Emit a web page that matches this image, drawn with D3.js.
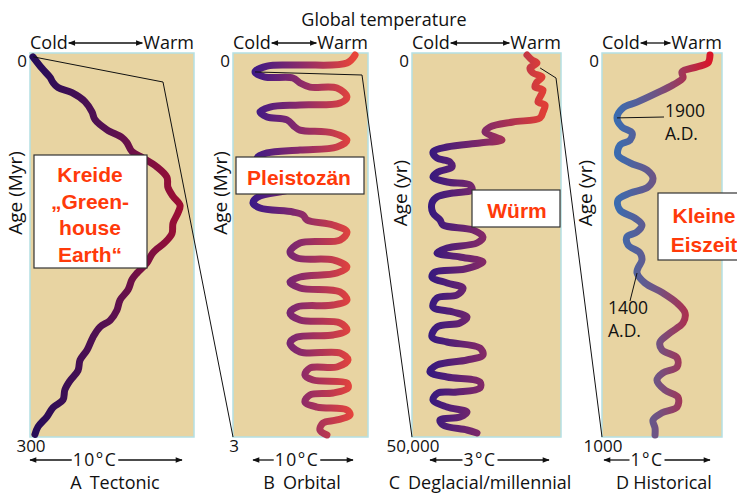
<!DOCTYPE html>
<html><head><meta charset="utf-8">
<script src="https://cdn.jsdelivr.net/npm/d3@7"></script>
<style>body{margin:0;background:#fff}svg{display:block}</style>
</head><body>
<svg id="chart" width="737" height="496"></svg>
<script>
// Temperature curves: [relative temperature (°C, cold→warm), age]
const tectonic = [
  [0.18,3],[0.73,12],[1.22,19],[1.40,23],[1.71,27],[2.56,31],[3.35,38],[3.78,46],[3.96,52],
  [4.70,60],[5.61,66],[5.91,70],[6.22,77],[6.89,82],[7.74,89],[8.35,97],[8.41,105],[8.72,112],
  [9.15,119],[9.02,125],[8.72,133],[8.66,141],[8.23,148],[7.50,156],[7.13,164],[6.52,172],
  [6.22,177],[5.98,185],[5.49,193],[5.30,201],[4.88,209],[4.27,214],[3.84,222],[3.48,232],
  [3.05,240],[2.93,248],[2.44,256],[2.13,263],[2.01,271],[1.40,277],[1.04,284],[0.49,292],[0.30,298]
];
const orbital = [
  [9.04,0.016],[8.44,0.078],[4.96,0.094],[2.52,0.102],[1.63,0.148],[2.37,0.188],[4.44,0.195],
  [4.96,0.234],[5.70,0.266],[7.70,0.273],[8.44,0.344],[7.93,0.391],[4.96,0.406],[2.74,0.422],
  [2.00,0.461],[2.52,0.500],[4.00,0.523],[4.59,0.578],[4.96,0.602],[7.41,0.625],[8.44,0.680],
  [7.70,0.734],[4.96,0.758],[2.52,0.781],[1.78,0.820],[4.96,0.914],[6.81,0.992],[4.22,1.070],
  [1.85,1.125],[1.48,1.172],[2.00,1.211],[4.44,1.242],[5.19,1.266],[5.48,1.305],[7.41,1.344],
  [8.44,1.398],[7.93,1.461],[4.96,1.484],[4.22,1.555],[4.74,1.602],[7.41,1.617],[8.44,1.672],
  [7.70,1.719],[4.96,1.750],[4.22,1.789],[4.96,1.836],[7.93,1.867],[8.44,1.930],[7.41,1.969],
  [4.74,1.984],[4.22,2.031],[4.96,2.086],[7.93,2.109],[8.44,2.164],[7.41,2.203],[4.74,2.219],
  [4.22,2.266],[4.96,2.336],[7.93,2.344],[8.52,2.398],[7.70,2.453],[5.70,2.461],[5.33,2.516],
  [5.93,2.555],[8.44,2.578],[8.52,2.617],[7.41,2.656],[5.70,2.672],[5.33,2.727],[6.22,2.766],
  [8.44,2.789],[8.67,2.828],[7.70,2.867],[6.67,2.891],[6.44,2.945],[6.96,2.984]
];
const deglacial = [
  [2.315,260],[2.416,911],[2.516,1302],[2.376,1953],[2.436,2604],[2.617,3125],[2.516,3776],
  [2.476,4427],[2.637,4818],[2.577,5729],[2.537,6380],[2.678,6771],[2.637,7682],[2.577,8463],
  [2.033,8984],[1.570,9635],[1.470,10286],[1.671,10937],[1.812,11328],[1.369,11719],[0.705,12240],
  [0.423,12891],[0.503,13672],[0.765,14193],[0.805,14844],[0.523,15495],[0.423,16146],[0.705,16797],
  [1.168,17188],[1.208,17838],[0.825,18229],[0.503,18750],[0.403,19531],[0.423,20833],[0.564,21745],
  [0.624,22396],[1.228,23047],[1.429,23958],[1.309,24740],[0.705,25391],[0.503,26042],[0.966,26563],
  [1.429,27214],[1.067,28125],[0.463,28516],[0.403,29167],[0.705,29948],[1.027,30599],[0.906,31510],
  [0.503,31901],[0.423,33073],[0.825,33724],[1.107,34375],[0.966,35156],[0.503,35677],[0.403,36979],
  [0.705,37630],[1.369,38411],[1.429,39323],[1.107,39974],[0.503,40625],[0.362,41536],[0.705,42188],
  [1.369,42839],[1.369,43620],[0.906,44141],[0.523,44271],[0.423,45182],[0.705,46094],[1.107,46745],
  [0.966,47396],[0.564,47786],[0.624,48438],[1.107,49089],[1.309,49479]
];
const historical = [
  [0.900,5],[0.883,26],[0.792,36],[0.667,49],[0.675,65],[0.592,83],[0.458,104],[0.292,128],
  [0.175,143],[0.125,169],[0.167,193],[0.250,208],[0.233,227],[0.150,240],[0.133,266],[0.233,286],
  [0.375,305],[0.425,326],[0.383,349],[0.233,365],[0.133,383],[0.150,409],[0.275,430],[0.333,448],
  [0.292,466],[0.208,479],[0.217,500],[0.317,521],[0.333,539],[0.300,560],[0.292,573],[0.358,599],
  [0.508,625],[0.625,651],[0.692,677],[0.675,703],[0.567,729],[0.483,753],[0.500,773],[0.625,794],
  [0.625,818],[0.508,833],[0.458,852],[0.525,878],[0.633,896],[0.625,922],[0.500,937],[0.425,956],
  [0.442,977],[0.442,995]
];

const panelLetters = ["A", "B", "C", "D"];
const panelNames = ["Tectonic", "Orbital", "Deglacial/millennial", "Historical"];
const ageTitles = ["Age (Myr)", "Age (Myr)", "Age (yr)", "Age (yr)"];
const ageMax = [300, 3, 50000, 1000];
const ageTickLabels = [["0", "300"], ["0", "3"], ["0", "50,000"], ["0", "1000"]];
const tempSpan = [10, 10, 3, 1];
const spanLabels = ["10°C", "10°C", "3°C", "1°C"];
const boxLabels = [["Kreide", "„Green-", "house", "Earth“"], ["Pleistozän"], ["Würm"], ["Kleine", "Eiszeit"]];
// Point in each panel where the guide line to the next, finer panel begins: [temp, age]
const zoomFrom = [[0.2, 3], [1.63, 0.148], [2.58, 1950]];
// Dated points in the historical panel
const historicalMarks = [
  {year: "1900", era: "A.D.", temp: 0.125, age: 169},
  {year: "1400", era: "A.D.", temp: 0.292, age: 573}
];

const series = [tectonic, orbital, deglacial, historical];

// Layout of the four panels
const layout = [
  {x0: 30, x1: 194, titleX: 15, arrow: [30, 182, 95], labelX: 115, capGap: 8,
   box: {x: 34, y: 155, w: 113, h: 113, cx: 90, base: 182, step: 26.5},
   colors: [[0, "#240c58"], [0.5, "#5a1150"], [1, "#a80d2e"]],
   bend: [163, 82]},
  {x0: 233, x1: 368, titleX: 220, arrow: [253, 353, 297], labelX: 302, capGap: 8,
   box: {x: 236, y: 157, w: 128, h: 37, cx: 299, base: 184.5, step: 0},
   colors: [[0.1, "#33178a"], [0.5, "#8a2a6a"], [0.9, "#e8453a"]],
   bend: [362, 75]},
  {x0: 412, x1: 561, titleX: 400, arrow: [430, 549, 480], labelX: 480, capGap: 8,
   box: {x: 472, y: 190, w: 88, h: 37, cx: 517, base: 217.5, step: 0},
   colors: [[0.12, "#37197e"], [0.5, "#862a66"], [0.88, "#df3e36"]],
   bend: [556, 78]},
  {x0: 602, x1: 722, titleX: 585, arrow: [604, 710, 647], labelX: 664, capGap: 4,
   box: {x: 658, y: 193, w: 92, h: 67, cx: 704, base: 222.5, step: 29},
   colors: [[0.12, "#3a6cb0"], [0.45, "#6e5484"], [0.9, "#d8162a"]],
   bend: null}
];
const plotTop = 53, plotBottom = 437;
const labelFont = "'Open Sans', 'DejaVu Sans', sans-serif";
const boxFont = "'Liberation Sans', Arial, sans-serif";
const ink = "#111";

const svg = d3.select("#chart");
const defs = svg.append("defs");

// arrowhead marker
defs.append("marker").attr("id", "head")
  .attr("viewBox", "0 0 10 10").attr("refX", 9).attr("refY", 5)
  .attr("markerWidth", 8).attr("markerHeight", 7).attr("markerUnits", "userSpaceOnUse")
  .attr("orient", "auto-start-reverse")
  .append("path").attr("d", "M0,1 L10,5 L0,9 Z").attr("fill", ink);

svg.append("text").attr("x", 384).attr("y", 26).attr("text-anchor", "middle")
  .attr("font-family", labelFont).attr("font-size", 18).attr("fill", ink).text("Global temperature");

const scales = layout.map((L, i) => ({
  x: d3.scaleLinear().domain([0, tempSpan[i]]).range([L.x0, L.x1]),
  y: d3.scaleLinear().domain([0, ageMax[i]]).range([plotTop, plotBottom])
}));

layout.forEach((L, i) => {
  const {x, y} = scales[i];
  const g = svg.append("g");

  // panel background
  g.append("rect").attr("x", L.x0).attr("y", plotTop)
    .attr("width", L.x1 - L.x0).attr("height", plotBottom - plotTop)
    .attr("fill", "#e8d4a2").attr("stroke", "#b4e0e4").attr("stroke-width", 1.5);

  // cold → warm gradient along the temperature axis
  const grad = defs.append("linearGradient").attr("id", "grad" + i)
    .attr("gradientUnits", "userSpaceOnUse")
    .attr("x1", L.x0).attr("x2", L.x1).attr("y1", 0).attr("y2", 0);
  L.colors.forEach(([o, c]) => grad.append("stop").attr("offset", o).attr("stop-color", c));

  const line = d3.line().x(d => x(d[0])).y(d => y(d[1])).curve(d3.curveCatmullRom.alpha(0.5));
  g.append("path").datum(series[i]).attr("d", line)
    .attr("fill", "none").attr("stroke", `url(#grad${i})`)
    .attr("stroke-width", 7).attr("stroke-linecap", "round").attr("stroke-linejoin", "round");

  // Cold ←→ Warm header
  const cold = svg.append("text").attr("x", L.x0).attr("y", 49).attr("fill", ink)
    .attr("font-family", labelFont).attr("font-size", 18).text("Cold");
  const warm = svg.append("text").attr("x", L.x1).attr("y", 49).attr("text-anchor", "end").attr("fill", ink)
    .attr("font-family", labelFont).attr("font-size", 18).text("Warm");
  const cEnd = L.x0 + cold.node().getComputedTextLength() + 1;
  const wStart = L.x1 - warm.node().getComputedTextLength() - 1;
  svg.append("line").attr("x1", cEnd).attr("x2", wStart).attr("y1", 43).attr("y2", 43)
    .attr("stroke", ink).attr("stroke-width", 1.3)
    .attr("marker-start", "url(#head)").attr("marker-end", "url(#head)");

  // age tick labels
  svg.append("text").attr("x", L.x0 - 3).attr("y", y(0) + 14).attr("text-anchor", "end").attr("fill", ink)
    .attr("font-family", labelFont).attr("font-size", 17).text(ageTickLabels[i][0]);
  svg.append("text").attr("x", L.x0 + 1).attr("y", y(ageMax[i]) + 15).attr("text-anchor", "middle").attr("fill", ink)
    .attr("font-family", labelFont).attr("font-size", 17).text(ageTickLabels[i][1]);

  // age axis title
  svg.append("text").attr("transform", `translate(${L.titleX},193) rotate(-90)`)
    .attr("text-anchor", "middle").attr("dominant-baseline", "central").attr("fill", ink)
    .attr("font-family", labelFont).attr("font-size", 19).text(ageTitles[i]);

  // temperature scale bar
  const [a0, a1, ac] = L.arrow;
  const st = svg.append("text").attr("x", ac).attr("y", 466).attr("text-anchor", "middle").attr("fill", ink)
    .attr("font-family", labelFont).attr("font-size", 17.5).attr("letter-spacing", 1.5).text(spanLabels[i]);
  const hw = st.node().getComputedTextLength() / 2 + 1;
  svg.append("line").attr("x1", ac - hw).attr("x2", a0).attr("y1", 460).attr("y2", 460)
    .attr("stroke", ink).attr("stroke-width", 1.3).attr("marker-end", "url(#head)");
  svg.append("line").attr("x1", ac + hw).attr("x2", a1).attr("y1", 460).attr("y2", 460)
    .attr("stroke", ink).attr("stroke-width", 1.3).attr("marker-end", "url(#head)");

  // panel caption
  const cap = svg.append("text").attr("x", L.labelX).attr("y", 489).attr("text-anchor", "middle").attr("fill", ink)
    .attr("font-family", labelFont).attr("font-size", 18);
  cap.append("tspan").text(panelLetters[i]);
  cap.append("tspan").attr("dx", L.capGap).text(panelNames[i]);
});

// guide lines linking each panel to the finer one to its right
layout.forEach((L, i) => {
  if (!L.bend) return;
  const p = zoomFrom[i];
  const nx = layout[i + 1].x0;
  const pts = [[scales[i].x(p[0]), scales[i].y(p[1])], L.bend, [nx, plotBottom]];
  svg.append("path").attr("d", d3.line()(pts))
    .attr("fill", "none").attr("stroke", ink).attr("stroke-width", 1);
});

// historical date markers
const sD = scales[3];
const markPos = [{tx: 665, ty: 117, lx: 664, ly: 117}, {tx: 608, ty: 314, lx: 630, ly: 301}];
historicalMarks.forEach((m, k) => {
  const P = markPos[k];
  svg.append("line").attr("x1", sD.x(m.temp)).attr("y1", sD.y(m.age)).attr("x2", P.lx).attr("y2", P.ly)
    .attr("stroke", ink).attr("stroke-width", 1);
  const t = svg.append("text").attr("font-family", labelFont).attr("font-size", 17.5).attr("fill", ink);
  t.append("tspan").attr("x", P.tx).attr("y", P.ty).text(m.year);
  t.append("tspan").attr("x", P.tx).attr("y", P.ty + 23).text(m.era);
});

// German labels in white boxes
layout.forEach((L, i) => {
  const b = L.box;
  svg.append("rect").attr("x", b.x).attr("y", b.y).attr("width", b.w).attr("height", b.h)
    .attr("fill", "#fff").attr("stroke", "#333").attr("stroke-width", 1.2);
  boxLabels[i].forEach((s, k) => {
    svg.append("text").attr("x", b.cx).attr("y", b.base + k * b.step).attr("text-anchor", "middle")
      .attr("font-family", boxFont).attr("font-weight", "bold").attr("font-size", 21)
      .attr("fill", "#ff3a0a").text(s);
  });
});
</script>
</body></html>
